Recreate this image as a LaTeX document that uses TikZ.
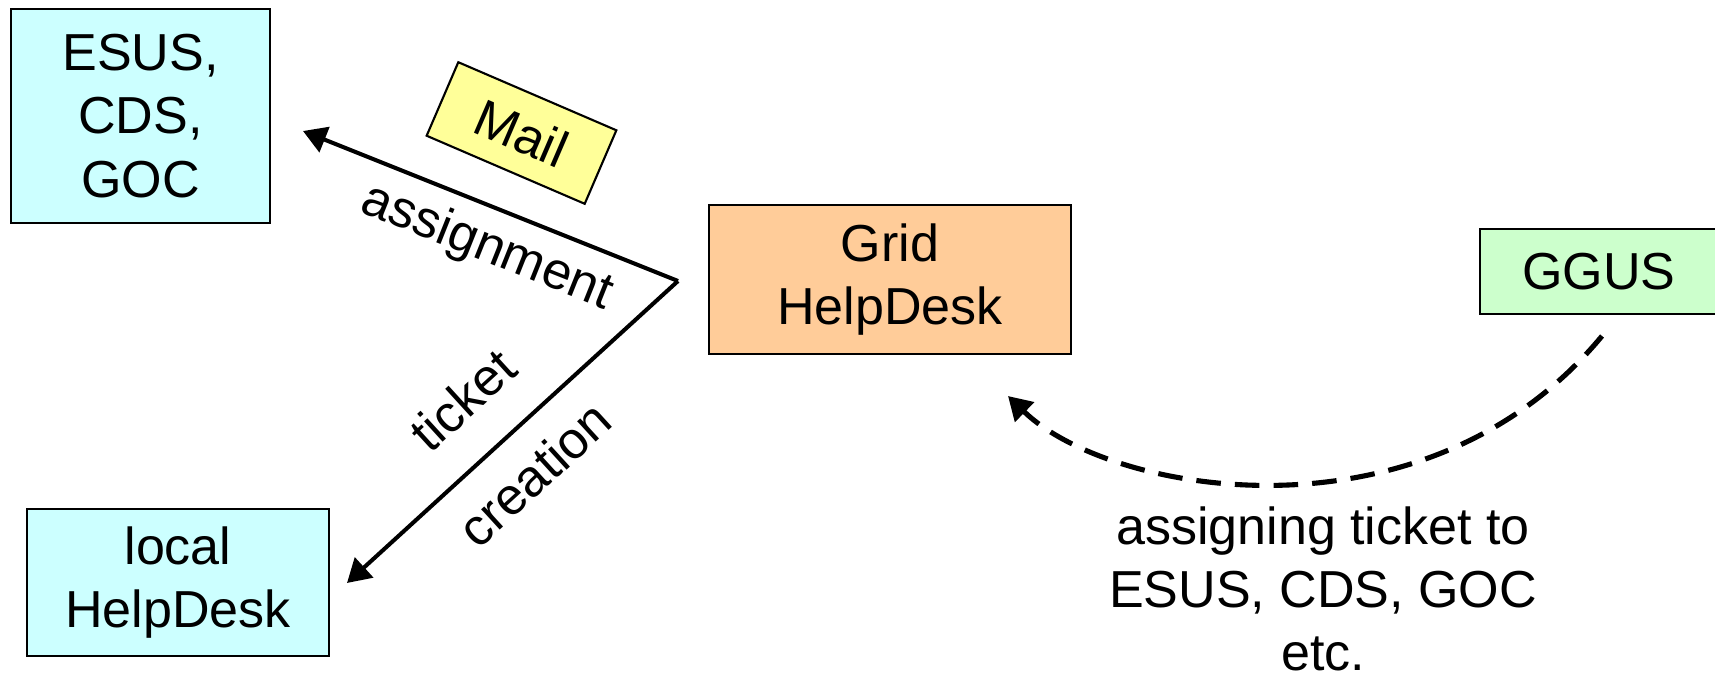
\documentclass[tikz,border=0pt]{standalone}
\usepackage{fontspec}
\setmainfont{Liberation Sans}
\usetikzlibrary{arrows.meta}
\definecolor{sitecyan}{HTML}{CCFFFF}
\definecolor{gridorange}{HTML}{FFCC99}
\definecolor{ggusgreen}{HTML}{CCFFCC}
\definecolor{mailyellow}{HTML}{FFFF99}
\begin{document}
\begin{tikzpicture}[x=0.01cm,y=-0.01cm,
  box/.style={draw, line width=0.6pt, align=center, inner sep=0pt, font=\fontsize{14.8}{18}\selectfont},
  lbl/.style={inner sep=2pt, align=center, font=\fontsize{14.8}{18}\selectfont},
  arr/.style={-{Triangle[length=6.6pt,width=7.6pt]}, line width=1.15pt}]
\useasboundingbox (0,0) rectangle (1715,672);

\node [box, fill=sitecyan, minimum width=2.59cm, minimum height=2.14cm] (esus) at (140.5,116) {ESUS,\\CDS,\\GOC};
\node [box, fill=sitecyan, minimum width=3.02cm, minimum height=1.47cm] (local) at (178,582.5) {local\\HelpDesk};
\node [box, fill=gridorange, minimum width=3.62cm, minimum height=1.49cm] (grid) at (890,279.5) {Grid\\HelpDesk};
\node [box, fill=ggusgreen, minimum width=2.38cm, minimum height=0.85cm] (ggus) at (1599,271.5) {GGUS};
\node [box, fill=mailyellow, rotate=-23.3, minimum width=1.72cm, minimum height=0.8cm] (mail) at (521.5,133) {Mail};

% ticket flow
\coordinate (apex) at (678,281);
\coordinate (esusin) at (303,131);
\coordinate (localin) at (347,583);
\draw [arr] (apex) -- (esusin) node [lbl, pos=0.47, sloped, below=2pt] (assign) {assignment};
\draw [arr] (apex) -- (localin)
  node [lbl, pos=0.534, sloped, above=8.3pt] (ticket) {ticket}
  node [lbl, pos=0.527, sloped, below=5pt] (creation) {creation};

% GGUS back to the grid helpdesk
\coordinate (ggusout) at (1602,336);
\coordinate (gridin) at (1008,396);
\draw [arr, line width=1.45pt, dash pattern=on 7pt off 4pt] (ggusout) .. controls (1425,550) and (1110,495) .. (gridin);
\node [lbl] (assigning) at (1323,589) {assigning ticket to\\ESUS, CDS, GOC\\etc.};
\end{tikzpicture}
\end{document}
